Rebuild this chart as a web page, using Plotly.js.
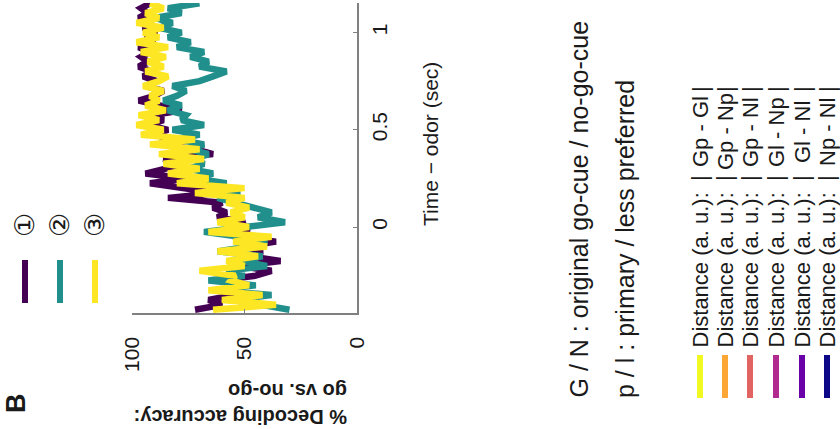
<!DOCTYPE html>
<html>
<head>
<meta charset="utf-8">
<script src="https://cdn.plot.ly/plotly-3.0.1.min.js"></script>
<style>
html,body{margin:0;padding:0;background:#fff;}
#chart{width:840px;height:429px;}
</style>
</head>
<body>
<div id="chart"></div>
<script>
// ---- data ----
const times = [-0.425, -0.4, -0.375, -0.35, -0.325, -0.3, -0.275, -0.25, -0.225, -0.2, -0.175, -0.15, -0.125, -0.1, -0.075, -0.05, -0.025, 0,
  0.025, 0.05, 0.075, 0.1, 0.125, 0.15, 0.175, 0.2, 0.225, 0.25, 0.275, 0.3, 0.325, 0.35, 0.375, 0.4,
  0.425, 0.45, 0.475, 0.5, 0.525, 0.55, 0.575, 0.6, 0.625, 0.65, 0.675, 0.7, 0.725, 0.75, 0.775, 0.8,
  0.825, 0.85, 0.875, 0.9, 0.925, 0.95, 0.975, 1.0, 1.025, 1.05, 1.075, 1.1, 1.125, 1.15];

const series1 = [72, 60, 66, 55, 58, 50, 62, 45, 38, 52, 34, 48, 42, 50, 36, 55, 48, 52,
  50, 62, 58, 64, 60, 84, 62, 80, 92, 76, 94, 85, 78, 86, 64, 72,
  88, 82, 90, 84, 93, 86, 91, 78, 88, 97, 90, 86, 94, 89, 95, 91, 97, 93, 96, 92, 97, 90, 94, 89, 95, 91, 97, 93, 96, 92];

const series2 = [30, 42, 55, 38, 63, 45, 66, 50, 58, 40, 52, 42, 62, 48, 40, 52, 68, 50,
  32, 44, 38, 46, 55, 62, 52, 66, 58, 72, 64, 75,
  68, 72, 66, 74, 68, 80, 70, 82, 68, 78,
  76, 84, 78, 86, 80, 76, 82, 70, 64, 58, 70, 66, 74, 68,
  80, 74, 84, 78, 88, 82, 90, 78, 84, 70];

const series3 = [64, 36, 60, 42, 66, 48, 56, 54, 70, 50, 58, 44, 62, 40, 55, 38, 66, 48,
  62, 50, 56, 48, 58, 50, 72, 50, 80, 66, 84, 70,
  86, 68, 88, 70, 92, 72, 96, 86, 98, 88,
  97, 85, 94, 88, 92, 86, 95, 88, 84, 94, 86, 93, 85, 96, 84, 98, 88, 95, 86, 98, 88, 94, 86, 92];

const seriesNames = ['①', '②', '③'];
const seriesColors = ['#440154', '#21908C', '#FDE725'];

const accTicks = [0, 50, 100];
const timeTicks = [0, 0.5, 1];
const timeTickText = ['0', '0.5', '1'];

const distLabels = ['Gp - Gl', 'Gp - Np', 'Gp - Nl', 'Gl - Np', 'Gl - Nl', 'Np - Nl'];
const distColors = ['#F0F921', '#FCA636', '#E16462', '#B12A90', '#6A00A8', '#0D0887'];

// ---- layout helpers (pixel -> paper) ----
const L = 132, R = 357, T = 3, B = 313;
function px(x) { return (x - L) / (R - L); }
function py(y) { return (B - y) / (B - T); }

const FONT = 'Liberation Sans, Arial, Helvetica, sans-serif';
const TXT = '#1a1a1a';

const allSeries = [series1, series2, series3];
const traces = allSeries.map((s, i) => ({
  type: 'scatter', mode: 'lines',
  x: s, y: times,
  name: seriesNames[i],
  line: {color: seriesColors[i], width: 6.5},
  hoverinfo: 'skip', showlegend: false
}));

const annotations = [];
const shapes = [];

function ann(text, x, y, size, angle, extra) {
  annotations.push(Object.assign({
    text: text, x: px(x), y: py(y), xref: 'paper', yref: 'paper',
    showarrow: false, textangle: angle, xanchor: 'center', yanchor: 'middle',
    borderpad: 0,
    font: {family: FONT, size: size, color: TXT}
  }, extra || {}));
}

// panel letter
ann('<b>B</b>', 16, 403, 27, -90);
// series legend
const legX = [25, 60, 95];
seriesNames.forEach((n, i) => {
  ann(n, legX[i], 225, 27, -90, {font: {family: 'DejaVu Sans, Noto Sans CJK JP, sans-serif', size: 27, color: TXT}});
  shapes.push({type: 'line', xref: 'paper', yref: 'paper', x0: px(legX[i]), x1: px(legX[i]), y0: py(260), y1: py(303),
    line: {color: seriesColors[i], width: 6}});
});
// axis titles
ann('Time − odor (sec)', 430, 144, 21, -90);
ann('<b>% Decoding accuracy:</b><br><b>go vs. no-go</b>', 241, 404, 20, 180, {align: 'left'});
// key text
ann('G / N : original go-cue / no-go-cue', 578, 399, 25, -90, {yanchor: 'bottom'});
ann('p / l : primary / less preferred', 625, 399, 25, -90, {yanchor: 'bottom'});
// distance table
const rowX = [700, 725, 750, 776, 802, 827];
distLabels.forEach((lab, i) => {
  shapes.push({type: 'line', xref: 'paper', yref: 'paper', x0: px(rowX[i]), x1: px(rowX[i]), y0: py(355), y1: py(398),
    line: {color: distColors[i], width: 6}});
  ann('Distance (a. u.):', rowX[i], 349, 22, -90, {yanchor: 'bottom'});
  ann('|', rowX[i], 178, 22, -90);
  ann(lab, rowX[i], 132, 22, -90);
  ann('|', rowX[i], 89, 22, -90);
});

const layout = {
  width: 840, height: 429,
  margin: {l: L, r: 840 - R, t: T, b: 429 - B, pad: 0},
  paper_bgcolor: '#ffffff', plot_bgcolor: '#ffffff',
  font: {family: FONT, color: TXT},
  showlegend: false,
  xaxis: {
    range: [100, 0], showline: true, linecolor: '#808080', linewidth: 1.5,
    ticks: 'inside', ticklen: 4, tickcolor: '#808080', tickwidth: 1,
    tickvals: accTicks, tickangle: -90, tickfont: {size: 21, color: TXT},
    ticklabelstandoff: 14,
    showgrid: false, zeroline: false, fixedrange: true
  },
  yaxis: {
    range: [-0.442, 1.152], side: 'right', showline: true, linecolor: '#808080', linewidth: 1.5,
    ticks: 'inside', ticklen: 4, tickcolor: '#808080', tickwidth: 1,
    tickvals: timeTicks, ticktext: timeTickText, tickangle: -90, tickfont: {size: 21, color: TXT},
    ticklabelstandoff: 3,
    showgrid: false, zeroline: false, fixedrange: true
  },
  annotations: annotations,
  shapes: shapes
};

Plotly.newPlot('chart', traces, layout, {staticPlot: true, displayModeBar: false});
</script>
</body>
</html>
